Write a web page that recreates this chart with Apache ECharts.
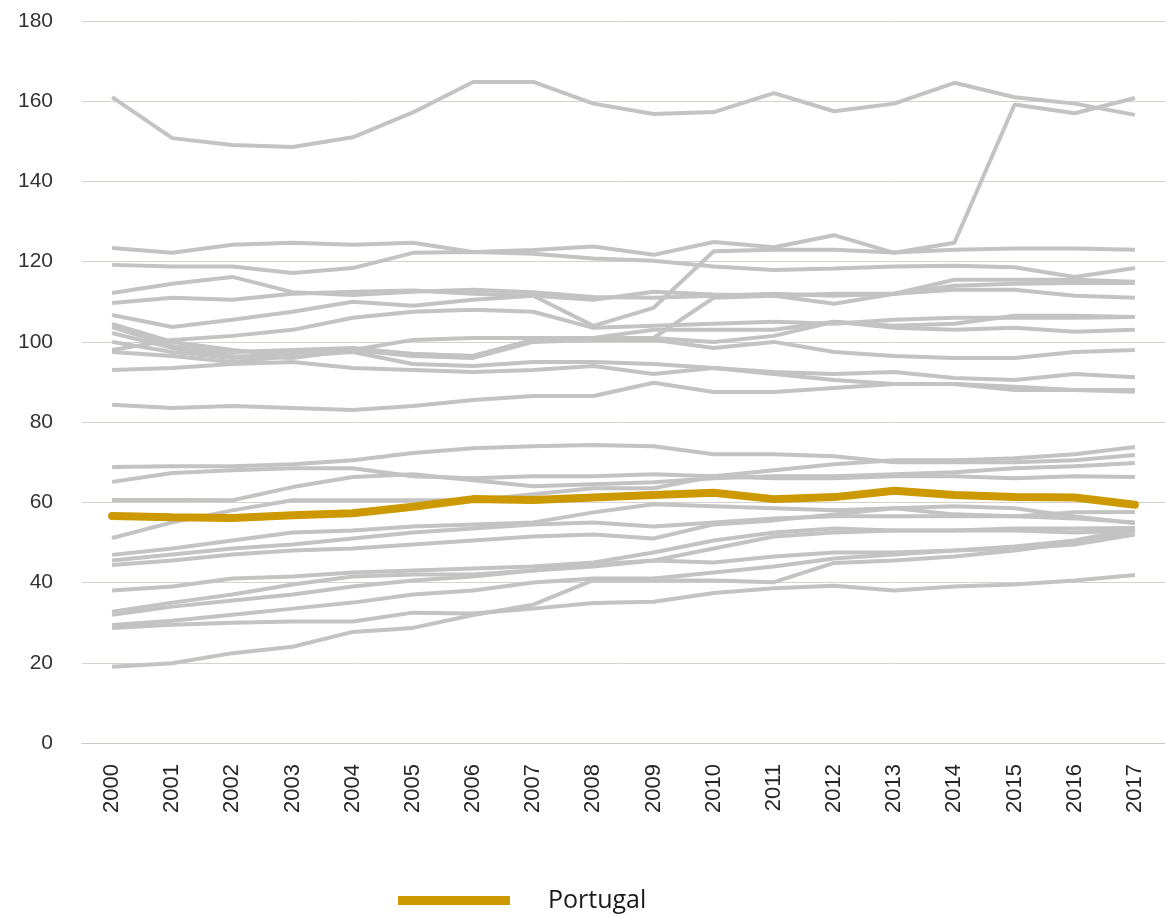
<!DOCTYPE html>
<html>
<head>
<meta charset="utf-8">
<script src="https://cdn.jsdelivr.net/npm/echarts@6/dist/echarts.min.js"></script>
<style>
  html, body { margin: 0; padding: 0; background: #fff; }
  #chart { width: 1165px; height: 917px; }
</style>
</head>
<body>
<div id="chart"></div>
<script>
var years = ['2000','2001','2002','2003','2004','2005','2006','2007','2008','2009','2010','2011','2012','2013','2014','2015','2016','2017'];
var yTicks = [0, 20, 40, 60, 80, 100, 120, 140, 160, 180];

var portugal = [56.6, 56.3, 56.1, 56.8, 57.3, 58.9, 60.8, 60.6, 61.2, 61.8, 62.4, 60.8, 61.3, 62.9, 61.8, 61.3, 61.2, 59.4];

// grey lines, upper group
var g01 = [161, 150.8, 149.1, 148.6, 151, 157.2, 164.8, 164.8, 159.4, 156.8, 157.3, 162, 157.5, 159.4, 164.6, 161, 159.4, 156.6];
var g02 = [123.4, 122.2, 124.2, 124.7, 124.2, 124.7, 122.4, 122.9, 123.8, 121.7, 124.9, 123.6, 126.6, 122.2, 124.7, 159.2, 157, 160.8];
var g03 = [119.2, 118.8, 118.8, 117.2, 118.4, 122.2, 122.4, 122, 120.8, 120.2, 118.8, 117.9, 118.3, 118.8, 119, 118.6, 116.2, 118.4];
var g04 = [106.7, 103.7, 105.5, 107.5, 110, 109, 110.5, 111.5, 104, 108.5, 122.6, 123, 123, 122.3, 123, 123.3, 123.3, 123];
var g05 = [112.2, 114.5, 116.2, 112.4, 111.7, 112.5, 113, 112.4, 111.2, 111, 111.5, 112, 111.5, 112, 114, 114.5, 114.7, 114.7];
var g06 = [109.7, 111, 110.5, 112, 112.5, 112.8, 112, 111.5, 110.5, 112.5, 111.8, 111.5, 109.5, 112, 113, 113, 111.5, 111];
var g07 = [104.5, 100, 98, 96.5, 98, 97, 96.5, 100.5, 101, 101, 111, 111.5, 112, 112, 115.5, 115.5, 115.5, 115];
var g08 = [103.7, 99, 97.5, 98, 98.5, 97, 96.5, 100.5, 101, 101, 100, 101.5, 105, 104, 104.5, 106.5, 106.5, 106.2];
var g09 = [102.2, 98.5, 96.5, 96, 98, 100.5, 101, 101, 101, 103, 103, 103, 105, 103.5, 103, 103.5, 102.5, 103];
var g10 = [100, 97.5, 96, 97.5, 98, 96.5, 96, 100, 100.5, 100.5, 98.5, 100, 97.5, 96.5, 96, 96, 97.5, 98];
var g11 = [98, 100.5, 101.5, 103, 106, 107.5, 108, 107.5, 103.5, 104, 104.5, 105, 104.5, 105.5, 106, 106, 106, 106.2];
var g12 = [97.5, 96.5, 95, 96.5, 97.5, 94.5, 94, 95, 95, 94.5, 93.5, 92.5, 92, 92.5, 91, 90.5, 92, 91.2];
var g13 = [93, 93.5, 94.5, 95, 93.5, 93, 92.5, 93, 94, 92, 93.5, 92, 90.5, 89.5, 89.5, 88, 88, 88];
var g14 = [84.3, 83.5, 84, 83.5, 83, 84, 85.5, 86.5, 86.5, 89.8, 87.5, 87.5, 88.5, 89.5, 89.5, 88.8, 88, 87.6];

// grey lines, lower group
var g15 = [68.8, 69, 69, 69.5, 70.5, 72.3, 73.5, 74, 74.3, 74, 72, 72, 71.5, 70, 70, 70, 70.5, 71.8];
var g16 = [65.1, 67.3, 68, 68.5, 68.5, 66.5, 66, 66.5, 66.5, 67, 66.5, 66, 66, 66.5, 66.5, 66, 66.5, 66.3];
var g17 = [60.6, 60.6, 60.5, 63.8, 66.3, 67, 65.5, 64, 64.5, 65, 66, 66.5, 66.5, 67, 67.5, 68.5, 69, 69.8];
var g18 = [51.1, 55, 58, 60.5, 60.5, 60.5, 60.5, 62, 63.5, 63.5, 66.5, 68, 69.5, 70.5, 70.5, 71, 72, 73.8];
var g19 = [46.9, 48.5, 50.5, 52.5, 53, 54, 54.5, 55, 57.5, 59.5, 59, 58.5, 58, 58.5, 57, 56.5, 57.5, 57.6];
var g20 = [45.5, 47, 48.5, 49.5, 51, 52.5, 53.5, 54.5, 55, 54, 55, 56, 56.5, 56.5, 56.5, 56.5, 56, 55];
var g21 = [44.4, 45.5, 47, 48, 48.5, 49.5, 50.5, 51.5, 52, 51, 54.5, 55.5, 57, 58.5, 59, 58.5, 56.5, 54.8];
var g22 = [38, 39, 41, 41.5, 42.5, 43, 43.5, 44, 45, 47.5, 50.5, 52.5, 53.5, 53, 53, 53.5, 53.5, 53.6];
var g23 = [32.7, 35, 37, 39.5, 41.5, 42, 42, 43, 44.5, 45.5, 48.5, 51.5, 52.5, 53, 53, 53, 52.5, 53];
var g24 = [32, 34, 35.5, 37, 39, 40.5, 41.5, 43, 44, 45.5, 45, 46.5, 47.5, 47.5, 48, 49, 50.5, 53.5];
var g25 = [29.4, 30.5, 32, 33.5, 35, 37, 38, 40, 41, 41, 42.5, 44, 46, 47, 48, 48.5, 49.5, 52];
var g26 = [28.7, 29.5, 30, 30.3, 30.3, 32.5, 32.3, 33.5, 34.9, 35.2, 37.4, 38.6, 39.2, 38, 39, 39.5, 40.5, 41.9];
var g27 = [19, 19.9, 22.4, 24, 27.7, 28.7, 31.9, 34.5, 40.6, 40.5, 40.5, 40.1, 44.9, 45.5, 46.5, 48, 50, 53];

var greyLines = [g01, g02, g03, g04, g05, g06, g07, g08, g09, g10, g11, g12, g13, g14,
                 g15, g16, g17, g18, g19, g20, g21, g22, g23, g24, g25, g26, g27];

var series = greyLines.map(function (d, i) {
    return {
        name: 'g' + i,
        type: 'line',
        data: d,
        symbol: 'none',
        silent: true,
        lineStyle: { color: '#c3c3c3', width: 4 },
        z: 2
    };
});
series.push({
    name: 'Portugal',
    type: 'line',
    data: portugal,
    symbol: 'none',
    lineStyle: { color: '#cc9900', width: 8, cap: 'round' },
    itemStyle: { color: '#cc9900' },
    z: 5
});

var myChart = echarts.init(document.getElementById('chart'));
myChart.setOption({
    animation: false,
    backgroundColor: '#ffffff',
    grid: { left: 82, top: 21, width: 1085, height: 722 },
    legend: {
        data: ['Portugal'],
        top: 883,
        left: 393,
        icon: 'rect',
        itemWidth: 112,
        itemHeight: 9,
        textStyle: { fontFamily: 'Open Sans', fontSize: 25, color: '#1a1a1a', padding: [0, 0, 0, 33] }
    },
    xAxis: {
        type: 'category',
        data: years,
        boundaryGap: true,
        axisLine: { show: true, lineStyle: { color: '#c8c8c0', width: 1 } },
        axisTick: { show: false },
        axisLabel: {
            rotate: 90,
            margin: 21,
            fontFamily: 'Liberation Sans',
            fontSize: 22,
            color: '#262626'
        }
    },
    yAxis: {
        type: 'value',
        min: yTicks[0],
        max: yTicks[yTicks.length - 1],
        interval: 20,
        axisLine: { show: false },
        axisTick: { show: false },
        splitLine: { lineStyle: { color: '#d4d4cc', width: 1 } },
        axisLabel: {
            margin: 29,
            fontFamily: 'Liberation Sans',
            fontSize: 21,
            color: '#333333'
        }
    },
    series: series
});
</script>
</body>
</html>
